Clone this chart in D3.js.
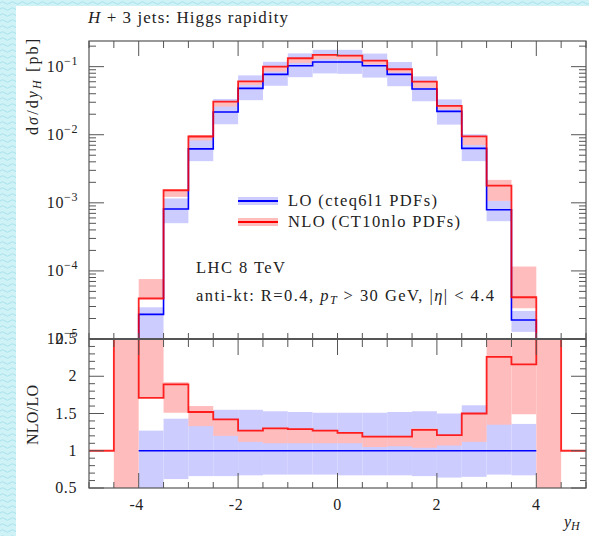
<!DOCTYPE html>
<html>
<head>
<meta charset="utf-8">
<script src="https://cdn.jsdelivr.net/npm/d3@7"></script>
<style>
  body { margin: 0; }
  svg { display: block; }
  text { font-family: "Liberation Serif", "DejaVu Serif", serif; fill: #222; }
</style>
</head>
<body>
<div id="chart"></div>
<script>
// Canvas
const width = 589;
const height = 536;

// Bin edges in y_H (20 bins of 0.5)
const binEdges = [-5, -4.5, -4, -3.5, -3, -2.5, -2, -1.5, -1, -0.5, 0, 0.5, 1, 1.5, 2, 2.5, 3, 3.5, 4, 4.5, 5];

// LO cross section per bin [pb], null = empty bin
const loXsec = [null, null, 2.3e-5, 8.1e-4, 6.2e-3, 2.16e-2, 4.8e-2, 7.7e-2, 0.103, 0.117,
                0.117, 0.103, 7.7e-2, 4.7e-2, 2.2e-2, 6.3e-3, 7.9e-4, 1.9e-5, null, null];

// NLO / LO ratio per bin (Infinity where LO is empty)
const nloOverLo = [1, Infinity, 1.71, 1.89, 1.52, 1.42, 1.27, 1.30, 1.29, 1.27,
                   1.24, 1.19, 1.19, 1.28, 1.21, 1.50, 2.26, 2.16, Infinity, 1];

// LO uncertainty band, relative to LO central value
const loBandLow  = [null, null, 0.35, 0.62, 0.66, 0.66, 0.67, 0.68, 0.68, 0.68,
                    0.67, 0.67, 0.67, 0.66, 0.64, 0.65, 0.68, 0.67, null, null];
const loBandHigh = [null, null, 1.27, 1.43, 1.44, 1.55, 1.55, 1.53, 1.52, 1.51,
                    1.51, 1.51, 1.52, 1.53, 1.50, 1.61, 1.37, 1.36, null, null];

// NLO uncertainty band, relative to LO central value
const nloBandLow  = [null, 0, 1.71, 1.51, 1.33, 1.20, 1.12, 1.10, 1.10, 1.10,
                     1.10, 1.05, 1.06, 1.04, 1.07, 1.12, 1.35, 1.49, 0, null];
const nloBandHigh = [null, Infinity, 3.3, 1.92, 1.60, 1.42, 1.28, 1.31, 1.30, 1.28,
                     1.25, 1.20, 1.20, 1.30, 1.21, 1.50, 2.75, 6.1, Infinity, null];

// Axis ticks
const xTickLabels = [-4, -2, 0, 2, 4];
const ratioTickLabels = [0.5, 1, 1.5, 2, 2.5];
const xsecDecades = [1e-5, 1e-4, 1e-3, 1e-2, 1e-1];

// Style constants
const STYLES = {
    lo: "#0000ff",
    nlo: "#ff0000",
    loBand: "#ccccff",
    nloBand: "#ffbcbc",
    frame: "#555",
    bg: "#cff2f7",
    wave: "#a9e2ec"
};

// Layout
const plot = { left: 89, right: 586, top: 41, split: 339, bottom: 488 };

const svg = d3.select("#chart")
    .append("svg")
    .attr("width", width)
    .attr("height", height);

// Background with wavy texture
const defs = svg.append("defs");
const pat = defs.append("pattern")
    .attr("id", "waves")
    .attr("patternUnits", "userSpaceOnUse")
    .attr("width", 10)
    .attr("height", 6);
pat.append("rect").attr("width", 10).attr("height", 6).attr("fill", STYLES.bg);
pat.append("path")
    .attr("d", "M0 3 Q2.5 0.5 5 3 T10 3")
    .attr("fill", "none")
    .attr("stroke", STYLES.wave)
    .attr("stroke-width", 1);

svg.append("rect").attr("width", width).attr("height", height).attr("fill", "url(#waves)");
svg.append("rect")
    .attr("x", 16).attr("y", 6)
    .attr("width", width - 16).attr("height", height - 6)
    .attr("fill", "#fff");

// Clip paths for the two panels
defs.append("clipPath").attr("id", "clipTop")
    .append("rect")
    .attr("x", plot.left).attr("y", plot.top)
    .attr("width", plot.right - plot.left).attr("height", plot.split - plot.top);
defs.append("clipPath").attr("id", "clipBot")
    .append("rect")
    .attr("x", plot.left).attr("y", plot.split)
    .attr("width", plot.right - plot.left).attr("height", plot.bottom - plot.split);

// Scales
const x = d3.scaleLinear().domain([-5, 5]).range([plot.left, plot.right]);
const yTop = d3.scaleLog().domain([1e-5, 0.238]).range([plot.split, plot.top]);
const yBot = d3.scaleLinear().domain([0.5, 2.5]).range([plot.bottom, plot.split]);

// Safe mappings: empty / infinite values go just outside the panel
const yT = v => (v == null || v <= 0) ? plot.split + 20 : (isFinite(v) ? yTop(v) : plot.top - 20);
const yB = v => (v == null) ? plot.bottom + 20 : (isFinite(v) ? yBot(v) : plot.split - 20);

const bins = d3.range(binEdges.length - 1).map(i => ({
    x0: binEdges[i],
    x1: binEdges[i + 1],
    lo: loXsec[i],
    ratio: nloOverLo[i],
    loLow: loBandLow[i],
    loHigh: loBandHigh[i],
    nloLow: nloBandLow[i],
    nloHigh: nloBandHigh[i]
}));

// Step line through bins, dropping to base at both ends
function stepPath(data, yFn, base) {
    const pts = [[x(data[0].x0), base]];
    data.forEach(d => pts.push([x(d.x0), yFn(d)]));
    const last = data[data.length - 1];
    pts.push([x(last.x1), yFn(last)]);
    pts.push([x(last.x1), base]);
    return d3.line().curve(d3.curveStepAfter)(pts);
}

// ---------- Upper panel ----------
const gTop = svg.append("g").attr("clip-path", "url(#clipTop)");
const loBins = bins.filter(d => d.lo != null);

gTop.selectAll("rect.loband")
    .data(loBins)
    .enter().append("rect")
    .attr("x", d => x(d.x0))
    .attr("width", d => x(d.x1) - x(d.x0))
    .attr("y", d => yT(d.lo * d.loHigh))
    .attr("height", d => yT(d.lo * d.loLow) - yT(d.lo * d.loHigh))
    .attr("fill", STYLES.loBand);

gTop.selectAll("rect.nloband")
    .data(loBins)
    .enter().append("rect")
    .attr("x", d => x(d.x0))
    .attr("width", d => x(d.x1) - x(d.x0))
    .attr("y", d => yT(d.lo * d.nloHigh))
    .attr("height", d => yT(d.lo * d.nloLow) - yT(d.lo * d.nloHigh))
    .attr("fill", STYLES.nloBand);

gTop.append("path")
    .attr("d", stepPath(loBins, d => yT(d.lo), plot.split + 20))
    .attr("fill", "none")
    .attr("stroke", STYLES.lo)
    .attr("stroke-width", 1.6);
gTop.append("path")
    .attr("d", stepPath(loBins, d => yT(d.lo * d.ratio), plot.split + 20))
    .attr("fill", "none")
    .attr("stroke", STYLES.nlo)
    .attr("stroke-width", 1.8)
    .attr("stroke-opacity", 0.85);

// ---------- Ratio panel ----------
const gBot = svg.append("g").attr("clip-path", "url(#clipBot)");

gBot.selectAll("rect.loband")
    .data(bins.filter(d => d.loLow != null))
    .enter().append("rect")
    .attr("x", d => x(d.x0))
    .attr("width", d => x(d.x1) - x(d.x0))
    .attr("y", d => yB(d.loHigh))
    .attr("height", d => yB(d.loLow) - yB(d.loHigh))
    .attr("fill", STYLES.loBand);

gBot.selectAll("rect.nloband")
    .data(bins.filter(d => d.nloLow != null))
    .enter().append("rect")
    .attr("x", d => x(d.x0))
    .attr("width", d => x(d.x1) - x(d.x0))
    .attr("y", d => yB(d.nloHigh))
    .attr("height", d => yB(d.nloLow) - yB(d.nloHigh))
    .attr("fill", STYLES.nloBand);

gBot.append("path")
    .attr("d", d3.line()([[x(loBins[0].x0), yB(1)], [x(loBins[loBins.length - 1].x1), yB(1)]]))
    .attr("stroke", STYLES.lo)
    .attr("stroke-width", 1.6);

gBot.append("path")
    .attr("d", d3.line().curve(d3.curveStepAfter)(
        bins.map(d => [x(d.x0), yB(d.ratio)]).concat([[x(5), yB(bins[bins.length - 1].ratio)]])))
    .attr("fill", "none")
    .attr("stroke", STYLES.nlo)
    .attr("stroke-width", 1.8)
    .attr("stroke-opacity", 0.85);

// ---------- Frame and ticks ----------
const axes = svg.append("g").attr("stroke", STYLES.frame).attr("fill", "none");

axes.append("rect")
    .attr("x", plot.left).attr("y", plot.top)
    .attr("width", plot.right - plot.left).attr("height", plot.bottom - plot.top)
    .attr("stroke-width", 1.2);
axes.append("line")
    .attr("x1", plot.left).attr("x2", plot.right)
    .attr("y1", plot.split).attr("y2", plot.split)
    .attr("stroke-width", 2);

x.ticks(20).forEach(v => {
    const major = xTickLabels.includes(v);
    const px = x(v);
    // top of upper panel
    axes.append("line").attr("x1", px).attr("x2", px)
        .attr("y1", plot.top).attr("y2", plot.top + (major ? 15 : 7));
    // around the split line
    axes.append("line").attr("x1", px).attr("x2", px)
        .attr("y1", plot.split - 6).attr("y2", plot.split + (major ? 16 : 8));
    // bottom of ratio panel
    axes.append("line").attr("x1", px).attr("x2", px)
        .attr("y1", plot.bottom).attr("y2", plot.bottom - (major ? 15 : 6));
});

yTop.ticks().forEach(v => {
    const major = xsecDecades.includes(v);
    const py = yTop(v);
    const len = major ? 15 : 7;
    axes.append("line").attr("x1", plot.left).attr("x2", plot.left + len).attr("y1", py).attr("y2", py);
    axes.append("line").attr("x1", plot.right).attr("x2", plot.right - len).attr("y1", py).attr("y2", py);
});

yBot.ticks(20).forEach(v => {
    const major = ratioTickLabels.some(t => Math.abs(t - v) < 1e-9);
    const py = yBot(v);
    const len = major ? 15 : 6;
    axes.append("line").attr("x1", plot.left).attr("x2", plot.left + len).attr("y1", py).attr("y2", py);
    axes.append("line").attr("x1", plot.right).attr("x2", plot.right - len).attr("y1", py).attr("y2", py);
});

// ---------- Tick labels ----------
const labels = svg.append("g").attr("font-size", 16).attr("letter-spacing", 0.6);

xTickLabels.forEach(v => {
    labels.append("text")
        .attr("x", x(v) + (v < 0 ? -2 : 0))
        .attr("y", plot.bottom + 22)
        .attr("text-anchor", "middle")
        .text(v < 0 ? "-" + Math.abs(v) : String(v));
});

xsecDecades.forEach(v => {
    const t = labels.append("text")
        .attr("x", 78)
        .attr("y", yTop(v) + 5)
        .attr("text-anchor", "end");
    t.append("tspan").text("10");
    t.append("tspan").attr("dy", -7).attr("font-size", 12).text("\u2212" + Math.round(-Math.log10(v)));
});

ratioTickLabels.forEach(v => {
    labels.append("text")
        .attr("x", 77)
        .attr("y", yBot(v) + 5)
        .attr("text-anchor", "end")
        .text(String(v));
});

// ---------- Axis titles ----------
const yt = svg.append("text")
    .attr("transform", "translate(38,87) rotate(-90)")
    .attr("text-anchor", "middle")
    .attr("font-size", 16)
    .attr("textLength", 96)
    .attr("lengthAdjust", "spacing");
yt.append("tspan").text("d");
yt.append("tspan").attr("font-style", "italic").text("\u03c3");
yt.append("tspan").text("/d");
yt.append("tspan").attr("font-style", "italic").text("y");
yt.append("tspan").attr("font-style", "italic").attr("font-size", 12).attr("dy", 3).text("H");
yt.append("tspan").attr("dy", -3).text(" [pb]");

svg.append("text")
    .attr("transform", "translate(38,415) rotate(-90)")
    .attr("text-anchor", "middle")
    .attr("font-size", 16)
    .attr("textLength", 60)
    .attr("lengthAdjust", "spacing")
    .text("NLO/LO");

const xt = svg.append("text")
    .attr("x", 564).attr("y", 527)
    .attr("font-size", 16);
xt.append("tspan").attr("font-style", "italic").text("y");
xt.append("tspan").attr("font-style", "italic").attr("font-size", 12).attr("dy", 3).text("H");

// Title
const title = svg.append("text").attr("x", 88).attr("y", 23).attr("font-size", 17)
    .attr("textLength", 200).attr("lengthAdjust", "spacing");
title.append("tspan").attr("font-style", "italic").text("H");
title.append("tspan").text(" + 3 jets:  Higgs rapidity");

// ---------- Legend ----------
const legend = [
    { label: "LO (cteq6l1 PDFs)", line: STYLES.lo, band: STYLES.loBand, y: 201, len: 149 },
    { label: "NLO (CT10nlo PDFs)", line: STYLES.nlo, band: STYLES.nloBand, y: 222, len: 172 }
];
legend.forEach(l => {
    svg.append("rect").attr("x", 238).attr("y", l.y - 4).attr("width", 40).attr("height", 8).attr("fill", l.band);
    svg.append("line").attr("x1", 238).attr("x2", 278).attr("y1", l.y).attr("y2", l.y)
        .attr("stroke", l.line).attr("stroke-width", 1.8);
    svg.append("text").attr("x", 288).attr("y", l.y + 5).attr("font-size", 16.5)
        .attr("textLength", l.len).attr("lengthAdjust", "spacing")
        .text(l.label);
});

// ---------- Annotations ----------
svg.append("text").attr("x", 196).attr("y", 273).attr("font-size", 16.5)
    .attr("textLength", 89).attr("lengthAdjust", "spacing")
    .text("LHC 8 TeV");

const cuts = svg.append("text").attr("x", 196).attr("y", 301).attr("font-size", 16.5)
    .attr("textLength", 298).attr("lengthAdjust", "spacing");
cuts.append("tspan").text("anti-kt:  R=0.4, ");
cuts.append("tspan").attr("font-style", "italic").text("p");
cuts.append("tspan").attr("font-style", "italic").attr("font-size", 12).attr("dy", 3).text("T");
cuts.append("tspan").attr("dy", -3).text(" > 30 GeV, |");
cuts.append("tspan").attr("font-style", "italic").text("\u03b7");
cuts.append("tspan").text("| < 4.4");
</script>
</body>
</html>
